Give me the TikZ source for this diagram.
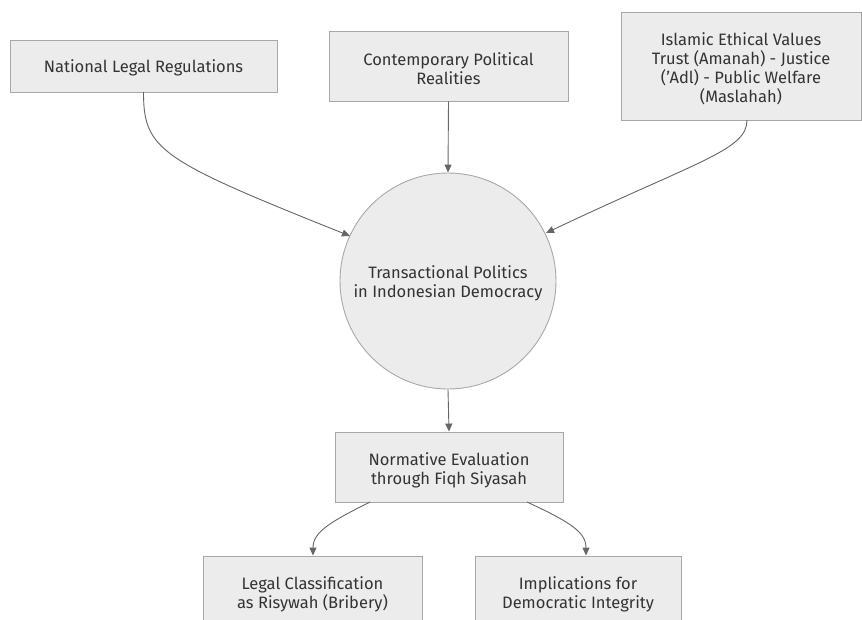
\documentclass[tikz,border=0pt]{standalone}
\usepackage{fontspec}
\setmainfont{Fira Sans}
\usetikzlibrary{arrows.meta}
\definecolor{boxfill}{HTML}{ECECEC}
\definecolor{boxline}{HTML}{A8A8A8}
\definecolor{edgecol}{HTML}{666666}
\definecolor{txt}{HTML}{333333}
\begin{document}
\begin{tikzpicture}[x=1pt,y=-1pt,
  box/.style={draw=boxline,fill=boxfill,line width=0.9pt,inner sep=0pt},
  circ/.style={circle,draw=boxline,fill=boxfill,line width=0.9pt,inner sep=0pt,minimum size=216pt},
  lbl/.style={inner sep=0pt,align=center,text=txt,font=\fontsize{16.5}{19}\selectfont},
  edge/.style={draw=edgecol,line width=0.9pt,-{Triangle[length=8pt,width=7pt]}}]
\useasboundingbox (0,0) rectangle (862,619);
\begin{scope}
\clip (0,0) rectangle (862,619);
\node[box,minimum width=267pt,minimum height=52pt] (nat) at (143.5,66) {};
\node[box,minimum width=239pt,minimum height=70pt] (con) at (448.5,66) {};
\node[box,minimum width=240pt,minimum height=108pt] (isl) at (741,66) {};
\node[circ] (tp) at (448,281) {};
\node[box,minimum width=228pt,minimum height=70pt] (ne) at (449,467) {};
\node[box,minimum width=219pt,minimum height=70pt] (lc) at (312.5,591) {};
\node[box,minimum width=206pt,minimum height=70pt] (im) at (578,591) {};
\end{scope}
\node[lbl] (nat-t) at ([yshift=-2pt]nat.center) {National Legal Regulations};
\node[lbl] (con-t) at ([yshift=-3pt]con.center) {Contemporary Political\\Realities};
\node[lbl] (isl-t) at ([yshift=-3pt]isl.center) {Islamic Ethical Values\\Trust (Amanah) - Justice\\('Adl) - Public Welfare\\(Maslahah)};
\node[lbl] (tp-t) at ([yshift=-2pt]tp.center) {Transactional Politics\\in Indonesian Democracy};
\node[lbl] (ne-t) at ([yshift=-3.5pt]ne.center) {Normative Evaluation\\through Fiqh Siyasah};
\node[lbl] (lc-t) at ([yshift=-3pt]lc.center) {Legal Classification\\as Risywah (Bribery)};
\node[lbl] (im-t) at ([yshift=-3pt]im.center) {Implications for\\Democratic Integrity};
\coordinate (n1) at (143.5,92);
\coordinate (n2) at (350,236);
\draw[edge] (n1) .. controls (143.5,150) and (160,160) .. (n2);
\coordinate (i1) at (747,120);
\coordinate (i2) at (546,233);
\draw[edge] (i1) .. controls (747,150) and (700,160) .. (i2);
\draw[edge] (con.south) -- (tp.north);
\draw[edge] (tp.south) -- (ne.north);
\coordinate (e1) at (370,502);
\coordinate (e2) at (527,502);
\draw[edge] (e1) .. controls (330,522) and (313,532) .. (lc.north -| 313,0);
\draw[edge] (e2) .. controls (570,522) and (586,532) .. (im.north -| 586,0);
\end{tikzpicture}
\end{document}
